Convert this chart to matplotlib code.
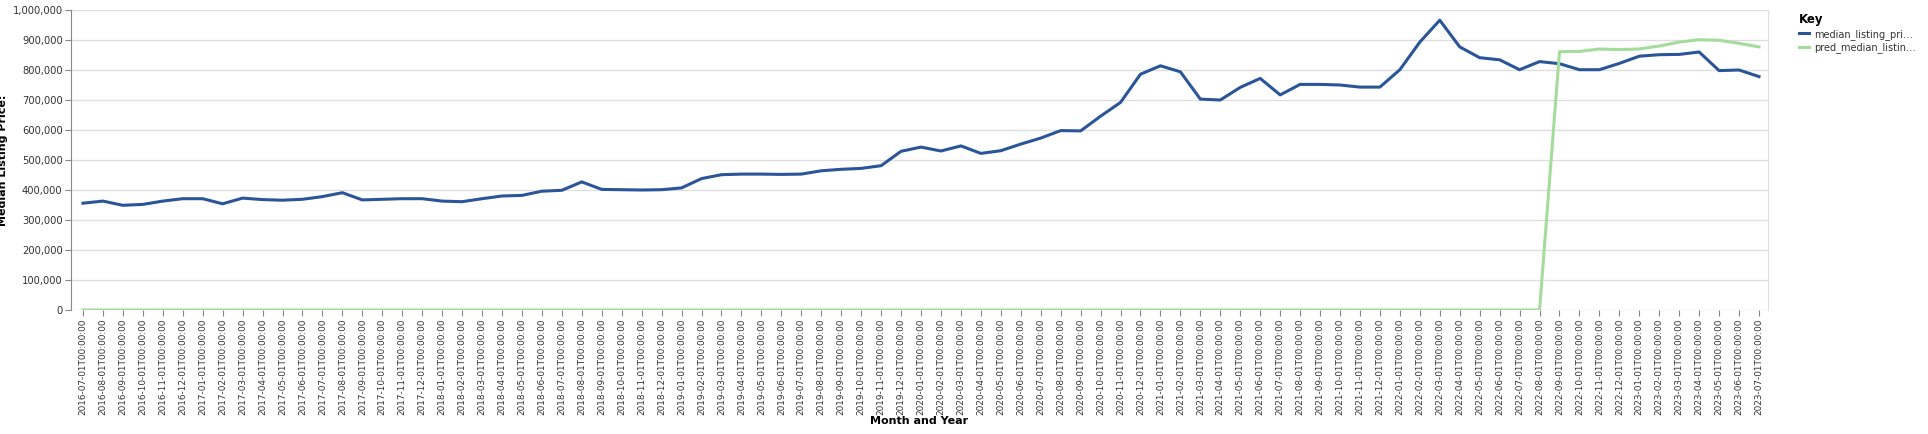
import matplotlib.pyplot as plt
import pandas as pd
from matplotlib.ticker import FuncFormatter

months = pd.date_range("2016-07-01", "2023-07-01", freq="MS").strftime("%Y-%m-%dT00:00:00").tolist()

median_price = [356, 363, 349, 352, 363, 371, 371, 354, 373, 368, 366, 369, 378, 391,
                367, 369, 371, 371, 363, 361, 371, 380, 382, 396, 399, 427, 402, 401,
                400, 401, 407, 438, 451, 453, 453, 452, 453, 464, 469, 472, 481, 529,
                543, 530, 547, 522, 531, 553, 573, 598, 597, 646, 692, 786, 814, 794,
                703, 700, 742, 772, 717, 752, 752, 750, 743, 743, 801, 893, 966, 877,
                841, 834, 801, 828, 821, 801, 801, 822, 846, 851, 852, 860, 798, 800, 778]
pred_price = [0] * 74 + [861, 862, 870, 868, 870, 880, 893, 901, 899, 889, 877]
median_price = [v * 1000 for v in median_price]
pred_price = [v * 1000 for v in pred_price]

fig = plt.figure(figsize=(19.28, 4.34), dpi=100)
ax = fig.add_axes([71 / 1928, 1 - 310 / 434, (1768 - 71) / 1928, 300 / 434])

x = list(range(len(months)))
ax.plot(x, median_price, color="#2a5599", lw=2.2, label="median_listing_pri…")
ax.plot(x, pred_price, color="#a4dc9c", lw=2.2, label="pred_median_listin…")

ax.set_xlim(-0.6, len(months) - 1 + 0.45)
ax.set_ylim(0, 1000000)
ax.set_yticks(range(0, 1000001, 100000))
ax.yaxis.set_major_formatter(FuncFormatter(lambda v, p: f"{int(v):,}"))
ax.set_xticks(x)
ax.set_xticklabels(months, rotation=90, fontsize=6.4, color="#333333")
ax.tick_params(axis="y", labelsize=7.2, labelcolor="#333333", color="#888888", length=4, pad=2)
ax.tick_params(axis="x", color="#888888", length=4, pad=2)
ax.grid(axis="y", color="#dddddd", lw=0.9)
ax.set_axisbelow(True)
for s in ["top", "bottom"]:
    ax.spines[s].set_visible(False)
ax.spines["left"].set_color("#888888")
ax.spines["right"].set_color("#dddddd")

ax.set_xlabel("Month and Year", fontsize=8, fontweight="bold", labelpad=1)
ax.set_ylabel("Median Listing Price:", fontsize=8, fontweight="bold", labelpad=3)

leg = ax.legend(loc="upper left", bbox_to_anchor=(1.013, 1.02), frameon=False,
                title="Key", fontsize=7, handlelength=1.0, handletextpad=0.6,
                labelspacing=0.3, alignment="left")
leg.get_title().set_fontweight("bold")
leg.get_title().set_fontsize(8.5)
for t in leg.get_texts():
    t.set_color("#333333")

fig.savefig("out.png", dpi=100)
